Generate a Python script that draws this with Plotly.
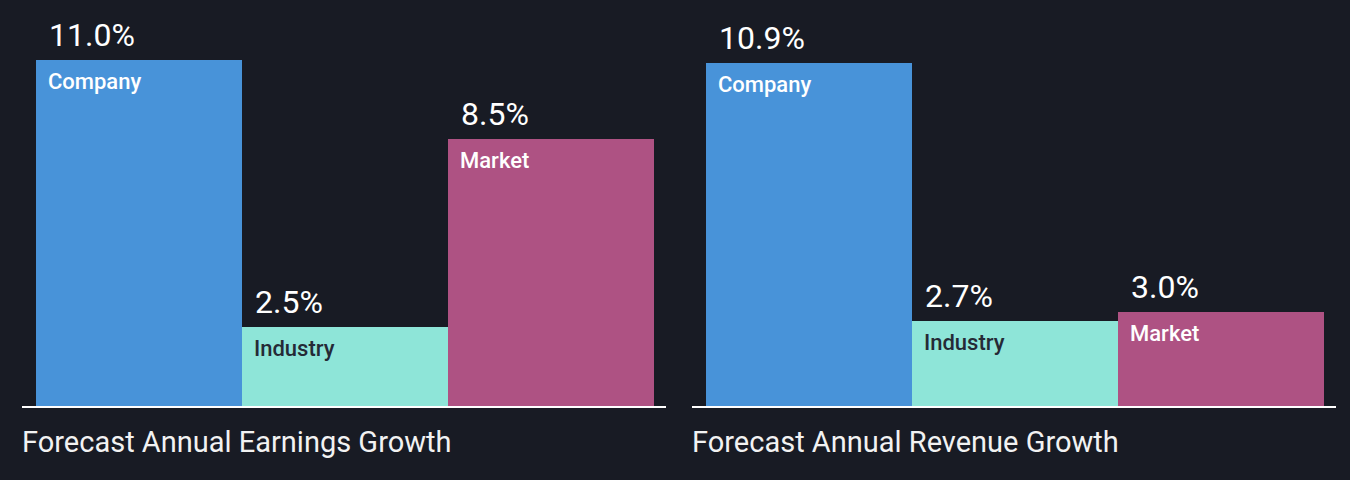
import plotly.graph_objects as go

categories = ["Company", "Industry", "Market"]
earnings_growth = [11.0, 2.5, 8.5]
revenue_growth = [10.9, 2.7, 3.0]
panel_titles = ["Forecast Annual Earnings Growth", "Forecast Annual Revenue Growth"]

bar_colors = ["#4893d9", "#8ee5d8", "#ae5283"]
label_colors = ["#ffffff", "#252a36", "#ffffff"]
BG = "#181b24"
W, H = 1350, 480
FONT = "Roboto"

fig = go.Figure()
panels = [earnings_growth, revenue_growth]
xaxes = ["x", "x2"]
x_positions = [0, 1, 2]

for p, (vals, xa) in enumerate(zip(panels, xaxes)):
    ya = "y" if p == 0 else "y2"
    fig.add_trace(go.Bar(
        x=x_positions, y=vals, width=1.0,
        marker=dict(color=bar_colors, line=dict(width=0)),
        xaxis=xa, yaxis=ya,
        hoverinfo="skip", showlegend=False,
    ))
    for i, v in enumerate(vals):
        fig.add_annotation(
            x=x_positions[i] - 0.5, y=v, xref=xa, yref=ya,
            text=f"{v:.1f}%", showarrow=False, xanchor="left", yanchor="bottom",
            xshift=11, yshift=4,
            font=dict(family=FONT, size=32, color="#ffffff"),
        )
        fig.add_annotation(
            x=x_positions[i] - 0.5, y=v, xref=xa, yref=ya,
            text=categories[i], showarrow=False, xanchor="left", yanchor="top",
            xshift=10, yshift=-7,
            font=dict(family=FONT, size=22, color=label_colors[i], weight=500),
        )

left_dom = [22 / W, 666 / W]
right_dom = [692 / W, 1336 / W]
xr = [-0.568, 2.558]
yr = [0, 406 / 31.45]
ydom = [74 / H, 1]

axis_common = dict(showgrid=False, zeroline=False, showticklabels=False, ticks="",
                   fixedrange=True)
fig.update_layout(
    width=W, height=H,
    paper_bgcolor=BG, plot_bgcolor=BG,
    margin=dict(l=0, r=0, t=0, b=0),
    bargap=0,
    xaxis=dict(domain=left_dom, range=xr, showline=True, linecolor="#ffffff",
               linewidth=2, anchor="y", **axis_common),
    xaxis2=dict(domain=right_dom, range=xr, showline=True, linecolor="#ffffff",
                linewidth=2, anchor="y2", **axis_common),
    yaxis=dict(domain=ydom, range=yr, anchor="x", showline=False, **axis_common),
    yaxis2=dict(domain=ydom, range=yr, anchor="x2", showline=False, **axis_common),
)

for t, dom in zip(panel_titles, [left_dom, right_dom]):
    fig.add_annotation(
        x=dom[0], y=(H - 442) / H, xref="paper", yref="paper",
        text=t, showarrow=False, xanchor="left", yanchor="middle", xshift=-2,
        font=dict(family=FONT, size=29, color="#f2f2f2"),
    )

fig.write_html(
    "out.html",
    config={"displayModeBar": False},
    post_script="document.body.style.margin='0';document.body.style.background='%s';" % BG,
)
